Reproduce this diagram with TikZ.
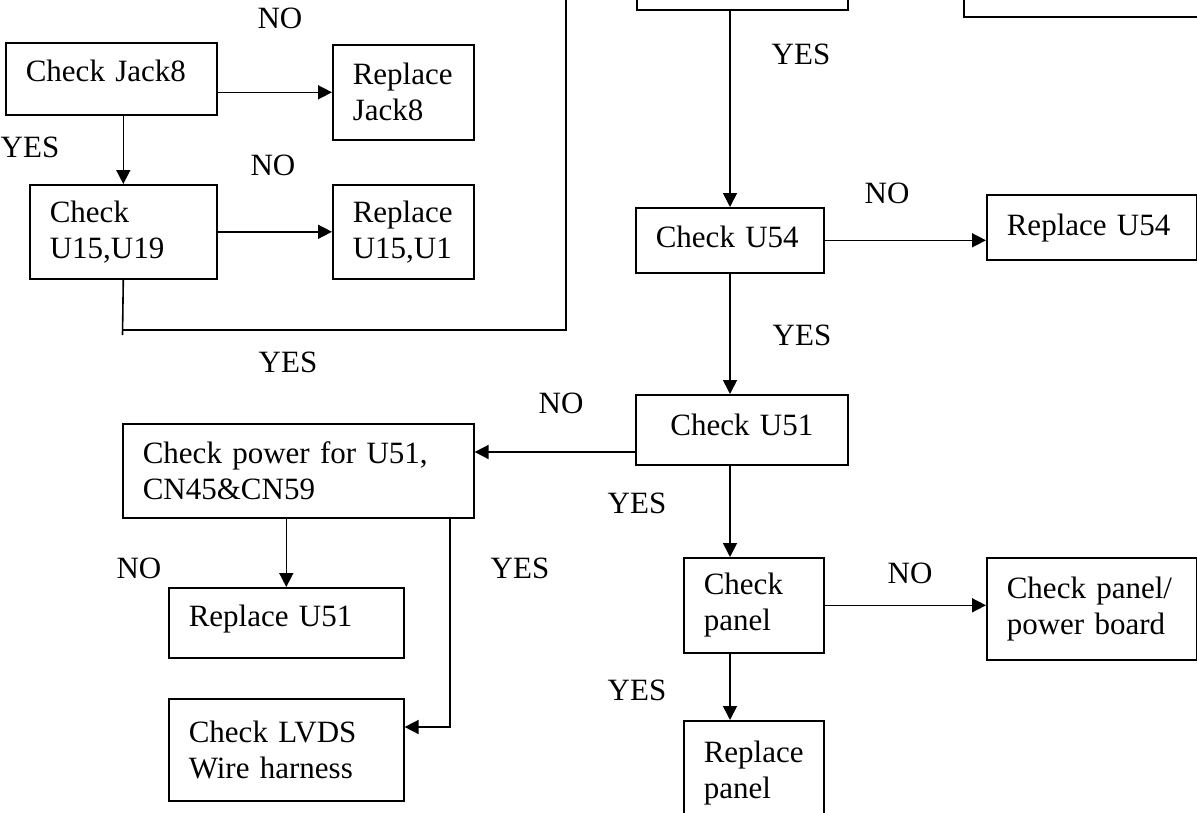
\documentclass[tikz,border=0pt]{standalone}
\usepackage{fontspec}
\setmainfont{Liberation Serif}
\usetikzlibrary{arrows.meta,calc}
\newcommand{\diagfont}{\fontsize{31}{36}\selectfont\hyphenpenalty=10000\exhyphenpenalty=10000}
\begin{document}
\begin{tikzpicture}[x=1pt,y=-1pt,
  every node/.style={font=\diagfont},
  box/.style={draw, line width=1.6pt, anchor=north west, inner xsep=20pt, inner ysep=0pt, align=left},
  lbl/.style={inner sep=0pt},
  conn/.style={line width=1.6pt},
  arr/.style={conn, -{Triangle[length=14pt,width=14pt]}}]
\useasboundingbox (0,0) rectangle (1197,812);
\clip (0,0) rectangle (1197,812);
% boxes
\node[box, minimum width=211, minimum height=89] (topc) at (636,-80) {};
\node[box, minimum width=320, minimum height=96] (topr) at (963,-80) {};
\node[box, minimum width=211, minimum height=72, text width=171pt, text depth=16pt] (jack) at (5,42) {Check Jack8};
\node[box, minimum width=141, minimum height=95, text width=101pt] (rjack) at (332,44) {Replace\\Jack8};
\node[box, minimum width=187, minimum height=94, text width=147pt] (u15) at (29,184) {Check\\U15,U19};
\node[box, minimum width=141, minimum height=94, text width=101pt] (ru15) at (332,184) {Replace\\U15,U1};
\node[box, minimum width=188, minimum height=65, text width=148pt, text depth=7pt] (u54) at (635,207) {Check U54};
\node[box, minimum width=210, minimum height=65, text width=170pt, text depth=5pt] (ru54) at (986,194) {Replace U54};
\node[box, minimum width=212, minimum height=70, text width=172pt, text depth=10pt, align=center] (u51) at (635,394) {Check U51};
\node[box, minimum width=351, minimum height=94, text width=311pt] (pwr) at (122,423) {Check power for U51,\\CN45\&CN59};
\node[box, minimum width=235, minimum height=70, text width=195pt, text depth=14pt] (ru51) at (168,587) {Replace U51};
\node[box, minimum width=235, minimum height=102, text width=195pt] (lvds) at (168,698) {Check LVDS\\Wire harness};
\node[box, minimum width=140, minimum height=95, text width=100pt] (panel) at (683,557) {Check\\panel};
\node[box, minimum width=210, minimum height=102, text width=170pt] (ppb) at (986,557) {Check panel/\\power board};
\node[box, minimum width=140, minimum height=104, text width=100pt] (rpanel) at (683,720) {Replace\\panel};
% helper coordinates
\coordinate (c0) at (122.5,335);
\coordinate (c1) at (122.5,330);
\coordinate (c2) at (566,330);
\coordinate (c3) at (566,-5);
\coordinate (sp) at (730,0);
\coordinate (k1) at (635,452);
\coordinate (k2) at (450,727);
% connectors
\draw[arr] (jack.east |- rjack.west) -- (rjack.west);
\draw[arr] (jack.south -| u15.north) -- (u15.north);
\draw[arr] (u15.east) -- (ru15.west);
\draw[conn] (u15.south) -- (c0);
\draw[conn] (c1) -- (c2) -- (c3);
\draw[arr] (topc.south -| sp) -- (u54.north -| sp);
\draw[arr] (u54.east) -- (u54.east -| ru54.west);
\draw[arr] (u54.south -| sp) -- (u51.north -| sp);
\draw[arr] (k1) -- (k1 -| pwr.east);
\draw[arr] (pwr.south -| ru51.north) -- (ru51.north);
\draw[arr] (pwr.south -| k2) -- (k2) -- (k2 -| lvds.east);
\draw[arr] (u51.south -| sp) -- (panel.north -| sp);
\draw[arr] (panel.east) -- (panel.east -| ppb.west);
\draw[arr] (panel.south -| sp) -- (rpanel.north -| sp);
% labels
\node[lbl] (l1) at (280,18) {NO};
\node[lbl] (l2) at (273,165) {NO};
\node[lbl] (l3) at (30,147) {YES};
\node[lbl] (l4) at (288,362) {YES};
\node[lbl] (l5) at (801,54) {YES};
\node[lbl] (l6) at (887,193) {NO};
\node[lbl] (l7) at (802,335) {YES};
\node[lbl] (l8) at (561,403) {NO};
\node[lbl] (l9) at (637,503) {YES};
\node[lbl] (l10) at (139,568) {NO};
\node[lbl] (l11) at (520,568) {YES};
\node[lbl] (l12) at (910,573) {NO};
\node[lbl] (l13) at (637,690) {YES};
\end{tikzpicture}
\end{document}
